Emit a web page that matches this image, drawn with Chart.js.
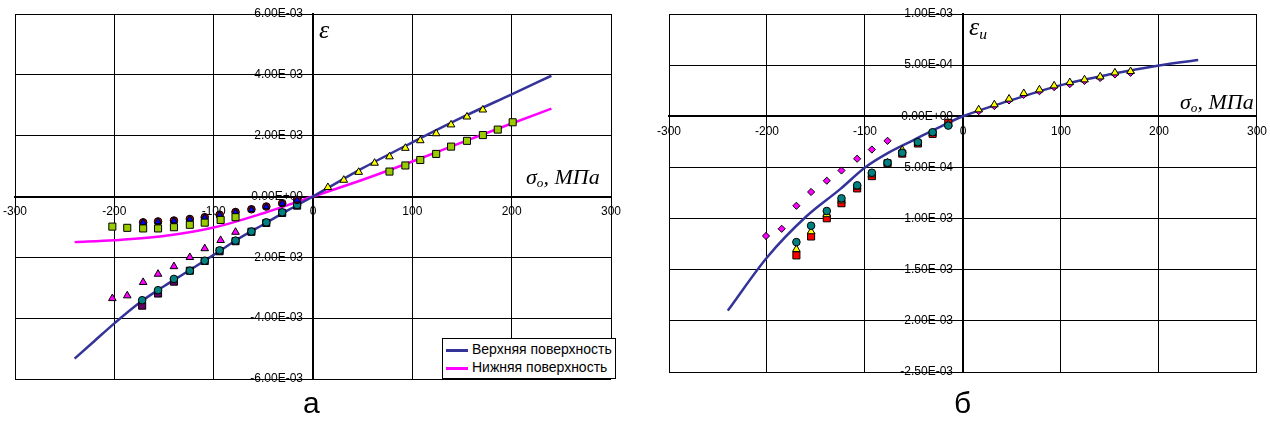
<!DOCTYPE html>
<html>
<head>
<meta charset="utf-8">
<script src="https://cdn.jsdelivr.net/npm/chart.js@4.4.1/dist/chart.umd.min.js"></script>
<style>
    body { margin: 0; background: #fff; width: 1270px; height: 428px; overflow: hidden; position: relative; }
    canvas { position: absolute; top: 0; }
    #chartA { left: 0; }
    #chartB { left: 640px; }
    .sym { position: absolute; font-family: "Liberation Serif", serif; font-style: italic; color: #000; white-space: nowrap; line-height: 1; }
    .sym sub { font-size: 60%; vertical-align: -0.25em; }
    .caption { position: absolute; font-family: "Liberation Sans", Arial, sans-serif; font-size: 30px; line-height: 1; color: #000; }
    .legend { position: absolute; left: 442px; top: 338px; width: 172px; height: 39px; border: 1px solid #000; background: #fff;
              font-family: "Liberation Sans", Arial, sans-serif; font-size: 14px; color: #000; }
    .legend div { position: absolute; left: 3px; white-space: nowrap; }
    .legend span { display: inline-block; width: 22px; height: 2.5px; vertical-align: middle; margin-right: 4px; }
</style>
</head>
<body>
<canvas id="chartA" width="630" height="395"></canvas>
<canvas id="chartB" width="630" height="395"></canvas>

<div class="sym" style="left:319px; top:17px; font-size:26px;">&epsilon;</div>
<div class="sym" style="left:526px; top:166px; font-size:22px;">&sigma;<sub>o</sub>, МПа</div>
<div class="sym" style="left:969px; top:14px; font-size:26px;">&epsilon;<sub>u</sub></div>
<div class="sym" style="left:1180px; top:91px; font-size:22px;">&sigma;<sub>o</sub>, МПа</div>

<div class="legend">
    <div style="top:2px;"><span style="background:#333399"></span>Верхняя поверхность</div>
    <div style="top:20px;"><span style="background:#ff00ff"></span>Нижняя поверхность</div>
</div>

<div class="caption" style="left:303px; top:388px;">а</div>
<div class="caption" style="left:954px; top:388px;">б</div>

<script>
// ---- chart a: strain, units of 1e-3 ----
const upperLineX = [-240, -220, -200, -175, -150, -125, -100, -75, -50, -25, 0, 50, 100, 150, 200, 240];
const upperLineY = [-5.33, -4.75, -4.17, -3.5, -2.95, -2.44, -1.92, -1.39, -0.92, -0.45, 0, 0.93, 1.78, 2.6, 3.36, 3.97];
const lowerLineX = [-240, -200, -150, -100, -50, 0, 50, 100, 150, 200, 240];
const lowerLineY = [-1.50, -1.44, -1.30, -1.02, -0.55, 0, 0.55, 1.15, 1.78, 2.40, 2.89];

const yellowTriX = [15, 31, 46, 62, 77, 93, 108, 124, 139, 155, 171];
const yellowTriY = [0.30, 0.54, 0.80, 1.10, 1.31, 1.59, 1.84, 2.07, 2.36, 2.62, 2.85];
const greenSqX = [-202, -187, -171, -156, -140, -124, -109, -93, -78, 77, 93, 108, 124, 139, 155, 171, 186, 201];
const greenSqY = [-0.99, -1.03, -1.05, -1.05, -1.01, -0.93, -0.86, -0.77, -0.68, 0.82, 1.02, 1.20, 1.40, 1.64, 1.83, 2.02, 2.20, 2.44];
const magentaTriX = [-202, -187, -171, -156, -140, -124, -109, -93, -78];
const magentaTriY = [-3.35, -3.26, -2.82, -2.55, -2.30, -2.00, -1.71, -1.44, -1.17];
const tealX = [-172, -156, -140, -124, -109, -94, -78, -62, -47, -31, -16];
const tealY = [-3.41, -3.08, -2.71, -2.44, -2.11, -1.77, -1.45, -1.15, -0.85, -0.52, -0.28];
const purpleY = [-3.59, -3.19, -2.80, -2.44, -2.12, -1.80, -1.47, -1.16, -0.87, -0.54, -0.30];
const redCircX = [-171, -156, -140, -124, -109, -94, -78, -62, -47, -31, -16];
const redCircY = [-0.85, -0.82, -0.79, -0.74, -0.68, -0.60, -0.51, -0.42, -0.33, -0.22, -0.11];
const blueTriY = [-0.86, -0.83, -0.80, -0.75, -0.69, -0.61, -0.52, -0.43, -0.34, -0.23, -0.12];

// ---- chart б: intensity strain, units of 1e-4 ----
const curveX = [-240, -200, -160, -125, -100, -75, -50, -25, 0, 50, 100, 150, 200, 240];
const curveY = [-19.0, -13.8, -9.8, -7.1, -5.0, -3.5, -2.3, -1.1, 0, 1.6, 3.05, 4.1, 4.97, 5.5];
const diamondX = [-201, -185, -170, -155, -139, -124, -108, -93, -77, 16, 32, 47, 62, 78, 93, 109, 124, 140, 155, 171];
const diamondY = [-11.7, -11.0, -8.75, -7.4, -6.3, -5.3, -4.15, -3.25, -2.4, 0.5, 1.0, 1.55, 2.1, 2.45, 2.85, 3.15, 3.45, 3.75, 4.1, 4.25];
const compX = [-170, -155, -139, -124, -108, -93, -77, -62, -46, -31, -15];
const circleY = [-12.3, -10.7, -9.26, -8.02, -6.75, -5.52, -4.54, -3.57, -2.53, -1.56, -0.91];
const squareY = [-13.6, -11.75, -9.97, -8.5, -7.05, -5.85, -4.6, -3.65, -2.66, -1.72, -0.64];
const triCompY = [-13.0, -11.27, -9.6, -8.25, -6.9, -5.7, -4.55, -3.3, -2.6, -1.65, -0.8];
const triTensX = [16, 32, 47, 62, 78, 93, 109, 124, 140, 155, 171];
const triTensY = [0.65, 1.14, 1.70, 2.24, 2.60, 2.99, 3.31, 3.58, 3.87, 4.26, 4.39];

function pts(xs, ys, unit) {
    return xs.map((x, i) => ({ x: x, y: ys[i] * unit }));
}

// Excel style 6.00E-03; trailing spaces keep the label clear of the axis
function sci(v) {
    return v.toExponential(2).toUpperCase().replace(/E([+-])(\d)$/, 'E$10$2') + '   ';
}

function markers(data, style, color, radius) {
    return {
        data: data, showLine: false, pointStyle: style, pointRadius: radius, pointHoverRadius: radius,
        pointBackgroundColor: color, pointBorderColor: '#000', pointBorderWidth: 1
    };
}

function curve(data, color) {
    return {
        data: data, showLine: true, pointRadius: 0, borderColor: color, borderWidth: 2.5,
        cubicInterpolationMode: 'monotone', fill: false
    };
}

const tickFont = { family: 'Liberation Sans', size: 12 };

function scales(yMin, yMax, yStep) {
    return {
        x: {
            type: 'linear', min: -300, max: 300, position: { y: 0 },
            ticks: { stepSize: 100, font: tickFont, color: '#000', autoSkip: false, maxRotation: 0, padding: 3 },
            grid: { color: '#000', lineWidth: 1, tickLength: 5 },
            border: { color: '#000', width: 2 }
        },
        y: {
            type: 'linear', min: yMin, max: yMax, position: { x: 0 },
            ticks: { stepSize: yStep, font: tickFont, color: '#000', autoSkip: false, callback: v => sci(v) },
            grid: { color: '#000', lineWidth: 1, tickLength: 5 },
            border: { color: '#000', width: 2 }
        }
    };
}

const common = {
    responsive: false,
    animation: false,
    events: [],
    plugins: { legend: { display: false }, tooltip: { enabled: false } }
};

new Chart(document.getElementById('chartA'), {
    type: 'scatter',
    data: {
        datasets: [
            markers(pts(yellowTriX, yellowTriY, 1e-3), 'triangle', '#ffff00', 4.4),
            markers(pts(greenSqX, greenSqY, 1e-3), 'rect', '#99cc00', 5),
            markers(pts(redCircX, blueTriY, 1e-3), 'triangle', '#0000ff', 3.8),
            markers(pts(redCircX, redCircY, 1e-3), 'circle', '#990000', 3.8),
            markers(pts(tealX, tealY, 1e-3), 'circle', '#008080', 3.8),
            markers(pts(tealX, purpleY, 1e-3), 'rect', '#660066', 5),
            markers(pts(magentaTriX, magentaTriY, 1e-3), 'triangle', '#ff00ff', 4.4),
            curve(pts(upperLineX, upperLineY, 1e-3), '#333399'),
            curve(pts(lowerLineX, lowerLineY, 1e-3), '#ff00ff')
        ]
    },
    options: Object.assign({}, common, {
        layout: { padding: { left: 13, top: 14, right: 19, bottom: 16 } },
        scales: scales(-0.006, 0.006, 0.002)
    })
});

new Chart(document.getElementById('chartB'), {
    type: 'scatter',
    data: {
        datasets: [
            markers(pts(compX, circleY, 1e-4), 'circle', '#008080', 3.8),
            markers(pts(compX, triCompY, 1e-4), 'triangle', '#ffff00', 4.4),
            markers(pts(triTensX, triTensY, 1e-4), 'triangle', '#ffff00', 4.4),
            markers(pts(compX, squareY, 1e-4), 'rect', '#ff0000', 5),
            markers(pts(diamondX, diamondY, 1e-4), 'rectRot', '#ff00ff', 3.6),
            curve(pts(curveX, curveY, 1e-4), '#333399')
        ]
    },
    options: Object.assign({}, common, {
        layout: { padding: { left: 29, top: 14, right: 9, bottom: 23 } },
        scales: scales(-0.0025, 0.001, 0.0005)
    })
});
</script>
</body>
</html>
